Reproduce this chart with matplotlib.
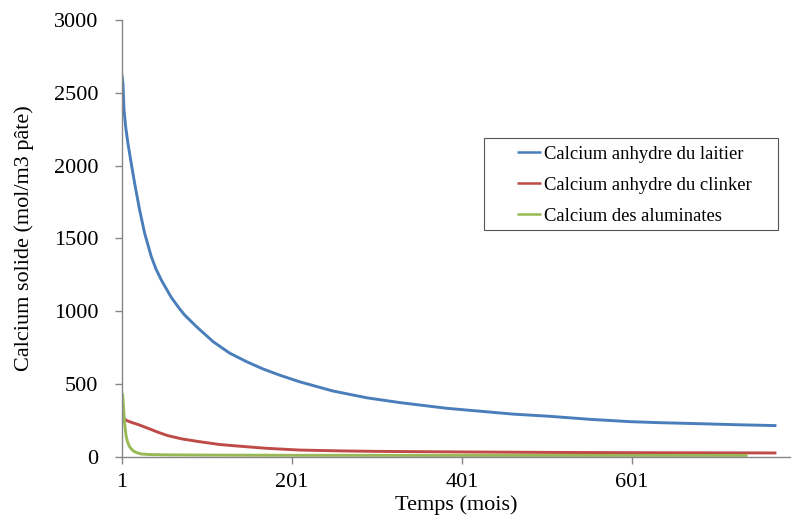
import matplotlib
matplotlib.use("Agg")
import matplotlib.pyplot as plt
from matplotlib.patches import Rectangle

# Data (months, mol/m3 pâte)
laitier_x = [1, 2.2, 3.4, 5.5, 8, 11.9, 15.9, 21.8, 27.7, 35.5, 41, 47.3, 59, 69, 74.7, 88.8, 108.4, 128, 147.7, 167, 186.9, 210, 249, 289, 328, 383, 461, 504, 552, 599, 634, 681, 724, 771]
laitier_y = [2623, 2560, 2383, 2260, 2154, 2016, 1879, 1695, 1535, 1375, 1290, 1214, 1095, 1015, 974, 893, 790, 711, 653, 603, 560, 515, 452, 405, 372, 333, 293, 278, 257, 241, 234, 227, 220, 214]

clinker_x = [1, 2, 8, 14.3, 19.8, 34, 45, 55, 72, 92.8, 116, 132, 171, 210, 260, 300, 400, 500, 600, 700, 771]
clinker_y = [272, 264, 245, 232, 222, 190, 165, 145, 122, 103, 84, 76, 58, 46, 40, 37, 33, 30, 28, 27, 26]

alum_x = [1, 1.8, 3, 4.1, 6, 8, 10, 13, 16, 20, 23.7, 34, 53.6, 80, 120, 200, 400, 600, 737]
alum_y = [436, 424, 320, 230, 137, 95, 69, 47, 34, 25, 19, 15, 13, 12, 11, 10, 9, 9, 9]

labels = ["Calcium anhydre du laitier", "Calcium anhydre du clinker", "Calcium des aluminates"]
colors = ["#4A7EBB", "#BE4B48", "#98B954"]

xticks = [1, 201, 401, 601]
yticks = [0, 500, 1000, 1500, 2000, 2500, 3000]

plt.rcParams['font.family'] = ['Liberation Serif', 'DejaVu Serif']

fig = plt.figure(figsize=(7.92, 5.22), dpi=100)
ax = fig.add_axes([0.154, 0.125, 0.8435, 0.8365])

for xs, ys, lab, c in zip([laitier_x, clinker_x, alum_x], [laitier_y, clinker_y, alum_y], labels, colors):
    ax.plot(xs, ys, color=c, lw=2.1, label=lab, solid_capstyle='butt', solid_joinstyle='round')

ax.set_xlim(1, 787)
ax.set_ylim(0, 3000)
ax.set_xticks(xticks)
ax.set_yticks(yticks)
ax.tick_params(axis='both', labelsize=16, color='#868686', length=5, width=1)
ax.tick_params(axis='y', pad=12)
ax.tick_params(axis='x', pad=7)
for s in ['top', 'right']:
    ax.spines[s].set_visible(False)
for s in ['left', 'bottom']:
    ax.spines[s].set_color('#868686')
    ax.spines[s].set_linewidth(1)

ax.set_xlabel("Temps (mois)", fontsize=16, labelpad=2)
ax.set_ylabel("Calcium solide (mol/m3 pâte)", fontsize=16, labelpad=14)

leg = ax.legend(loc='upper left', bbox_to_anchor=(0.5913, 0.7117), fontsize=13.4,
                frameon=False, handlelength=1.3, handletextpad=0.15,
                labelspacing=0.74, borderpad=0, borderaxespad=0)
for h in leg.get_lines():
    h.set_linewidth(1.8)

# legend box (Excel-style, wider than its contents)
fig.patches.append(Rectangle((484 / 792, 1 - 230 / 522), 294 / 792, 92 / 522,
                             transform=fig.transFigure, fill=False,
                             edgecolor='#555555', linewidth=0.8))

fig.savefig("out.png", dpi=100)
